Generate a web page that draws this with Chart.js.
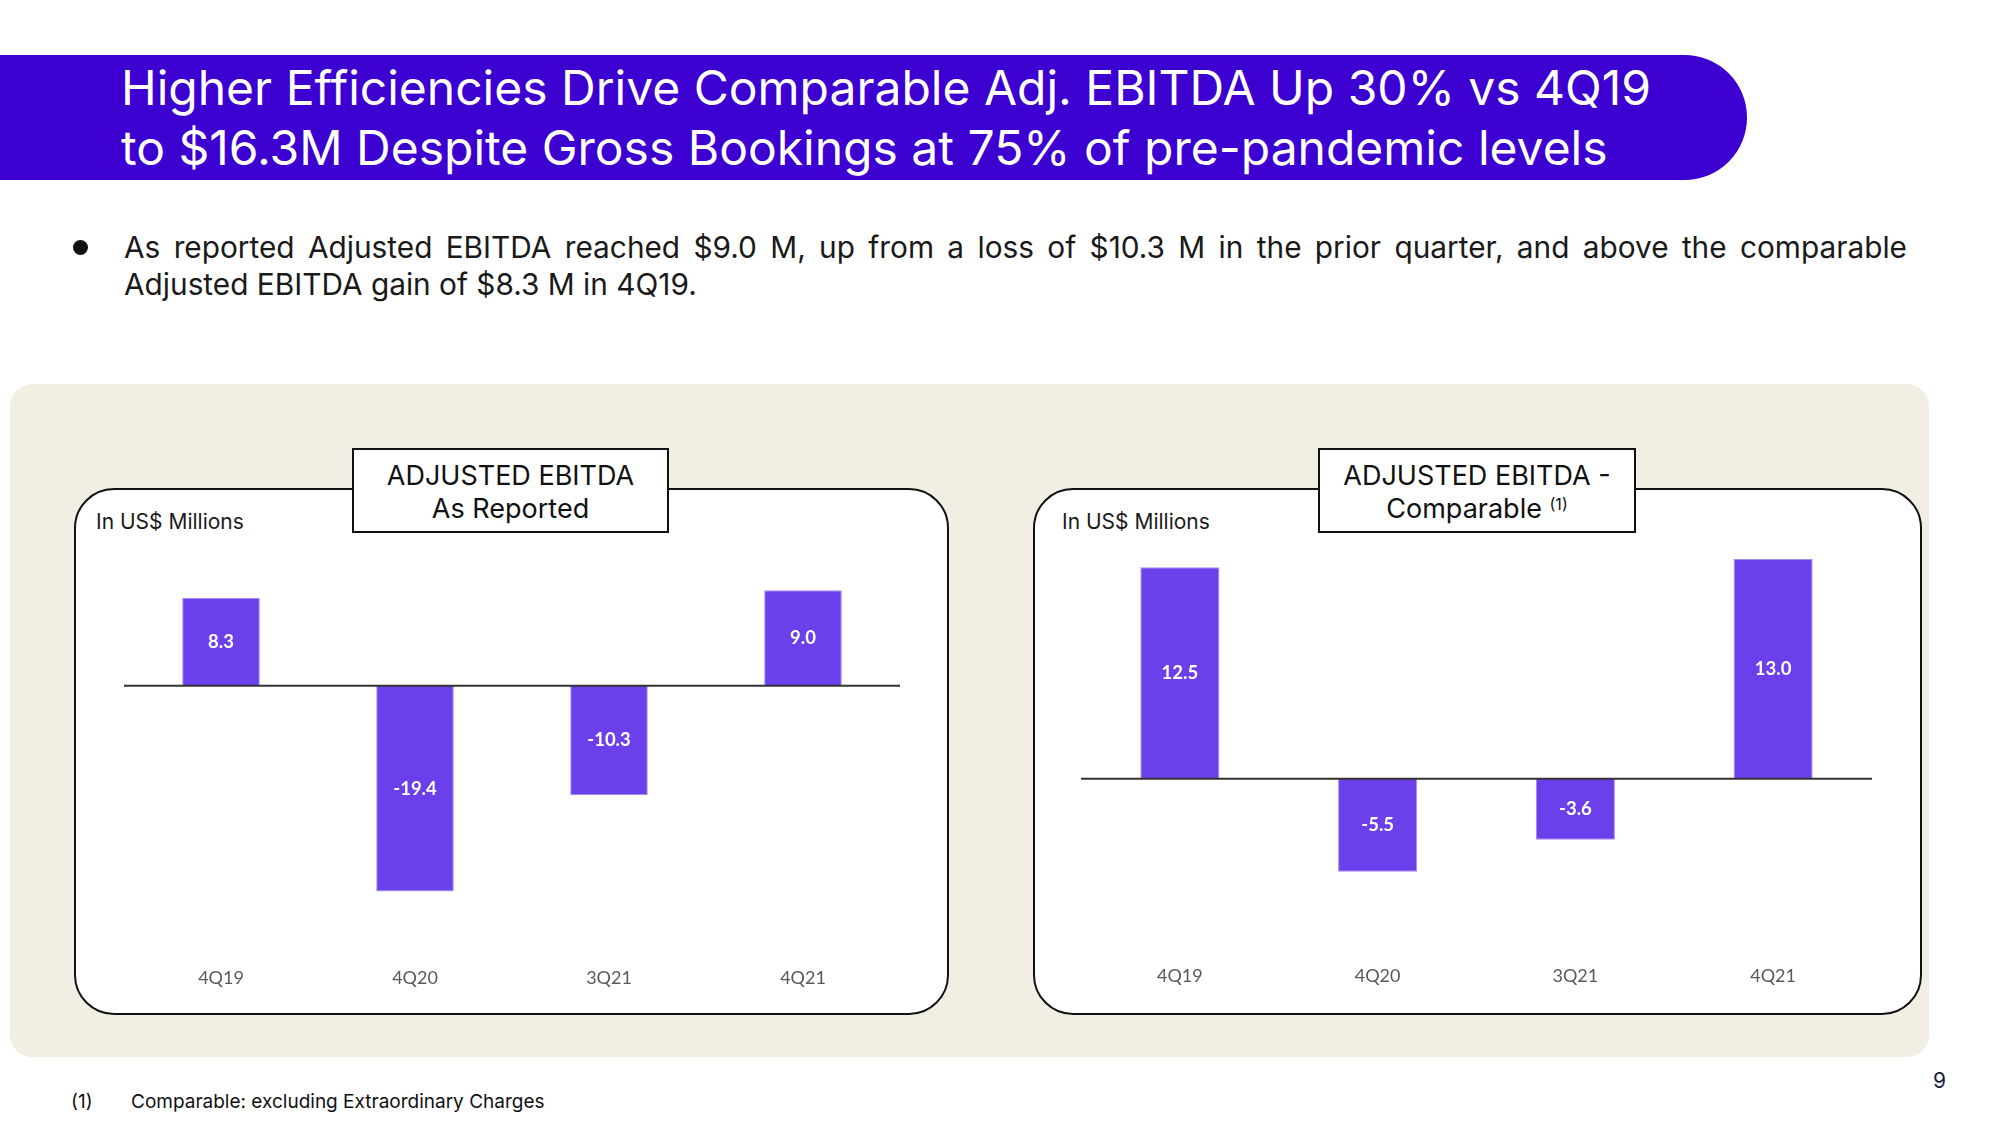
<!DOCTYPE html>
<html>
<head>
<meta charset="utf-8">
<script src="https://cdn.jsdelivr.net/npm/chart.js@4/dist/chart.umd.min.js"></script>
<style>
  html, body { margin:0; padding:0; background:#ffffff; }
  body { width:2000px; height:1125px; position:relative; overflow:hidden; font-family:Inter, "Noto Sans", sans-serif; color:#111; }
  .banner { position:absolute; left:0; top:55px; width:1747px; height:125px; background:#3c00d0; border-radius:0 63px 63px 0; }
  .banner-text { position:absolute; left:121px; top:58px; color:#fff; font-size:48px; line-height:60px; font-weight:400; white-space:nowrap; }
  .bullet-dot { position:absolute; left:73px; top:240px; width:15px; height:15px; border-radius:50%; background:#111; }
  .bullet { position:absolute; left:124px; top:229px; width:1783px; font-size:29.8px; line-height:37px; text-align:justify; text-align-last:left; color:#1a1a1a; }
  .panel { position:absolute; left:10px; top:384px; width:1919px; height:673px; background:#f2eee4; border-radius:22px; }
  .card { position:absolute; top:488px; height:527px; background:#fff; border:2.5px solid #111; border-radius:40px; box-sizing:border-box; }
  .unit { position:absolute; font-size:21px; color:#1a1a1a; }
  .tbox { position:absolute; top:448px; height:85px; background:#fff; border:2px solid #111; box-sizing:border-box; text-align:center; font-size:27px; line-height:33px; padding-top:9px; color:#111; }
  .tbox sup { font-size:16px; vertical-align:top; position:relative; top:-4px; }
  canvas { position:absolute; }
  .foot { position:absolute; top:1090px; font-size:19px; color:#111; }
  .pnum { position:absolute; left:1933px; top:1068px; font-size:21px; color:#1d1d3a; }
</style>
</head>
<body>
<div class="banner"></div>
<div class="banner-text">Higher Efficiencies Drive Comparable Adj. EBITDA Up 30% vs 4Q19<br>to $16.3M Despite Gross Bookings at 75% of pre-pandemic levels</div>
<div class="bullet-dot"></div>
<div class="bullet">As reported Adjusted EBITDA reached $9.0 M, up from a loss of $10.3 M in the prior quarter, and above the comparable Adjusted EBITDA gain of $8.3 M in 4Q19.</div>
<div class="panel"></div>

<div class="card" style="left:74px; width:875px;"></div>
<div class="card" style="left:1033px; width:889px;"></div>

<div class="unit" style="left:96px; top:509px;">In US$ Millions</div>
<div class="unit" style="left:1062px; top:509px;">In US$ Millions</div>

<div class="tbox" style="left:352px; width:317px;">ADJUSTED EBITDA<br>As Reported</div>
<div class="tbox" style="left:1318px; width:318px;">ADJUSTED EBITDA -<br>Comparable <sup>(1)</sup></div>

<canvas id="c1" style="left:124px; top:569px;" width="776" height="426"></canvas>
<canvas id="c2" style="left:1081px; top:542px;" width="791" height="453"></canvas>

<div class="foot" style="left:71px;">(1)</div>
<div class="foot" style="left:131px;">Comparable: excluding Extraordinary Charges</div>
<div class="pnum">9</div>

<script>
const categories = ["4Q19", "4Q20", "3Q21", "4Q21"];
const reportedValues = [8.3, -19.4, -10.3, 9.0];
const comparableValues = [12.5, -5.5, -3.6, 13.0];
const reportedRange = { min: -26, max: 11 };
const comparableRange = { min: -10.5, max: 14 };

const barColor = "#6b3fea";
const barBorder = "#a48bf2";

const insideLabels = {
  id: "insideLabels",
  afterDatasetsDraw(chart) {
    const ctx = chart.ctx;
    const y = chart.scales.y;
    const zy = y.getPixelForValue(0);
    ctx.save();
    ctx.strokeStyle = "#333333";
    ctx.lineWidth = 2;
    ctx.beginPath();
    ctx.moveTo(chart.chartArea.left, zy);
    ctx.lineTo(chart.chartArea.right, zy);
    ctx.stroke();
    const meta = chart.getDatasetMeta(0);
    const data = chart.data.datasets[0].data;
    ctx.fillStyle = "#ffffff";
    ctx.font = "bold 18.5px Lato, 'Open Sans', sans-serif";
    ctx.textAlign = "center";
    ctx.textBaseline = "middle";
    meta.data.forEach((bar, i) => {
      const cy = (bar.y + bar.base) / 2;
      ctx.fillText(data[i].toFixed(1), bar.x, cy);
    });
    ctx.restore();
  }
};

function makeChart(id, values, range, pad) {
  return new Chart(document.getElementById(id), {
    type: "bar",
    data: {
      labels: categories,
      datasets: [{
        data: values,
        backgroundColor: barColor,
        borderColor: barBorder,
        borderWidth: 1,
        borderSkipped: "start",
        barPercentage: 0.4,
        categoryPercentage: 1.0
      }]
    },
    options: {
      responsive: false,
      animation: false,
      devicePixelRatio: 1,
      layout: { padding: 0 },
      plugins: { legend: { display: false }, tooltip: { enabled: false } },
      scales: {
        x: {
          grid: { display: false, drawTicks: false },
          border: { display: false },
          ticks: { color: "#595959", font: { family: "Lato, 'Open Sans', sans-serif", size: 18 }, padding: pad }
        },
        y: {
          display: false,
          min: range.min,
          max: range.max
        }
      }
    },
    plugins: [insideLabels]
  });
}

makeChart("c1", reportedValues, reportedRange, 6);
makeChart("c2", comparableValues, comparableRange, 8.5);
</script>
</body>
</html>
